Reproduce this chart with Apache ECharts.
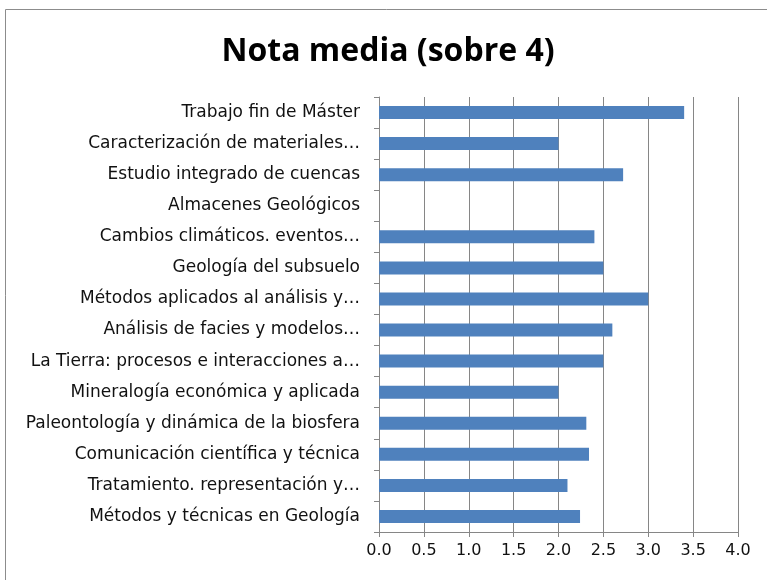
<!DOCTYPE html>
<html>
<head>
<meta charset="utf-8">
<script src="https://cdn.jsdelivr.net/npm/echarts@6/dist/echarts.min.js"></script>
<style>
  html, body { margin: 0; padding: 0; background: #fff; }
  #chart { width: 767px; height: 580px; }
</style>
</head>
<body>
<div id="chart"></div>
<script>
// asignaturas, de arriba a abajo
const asignaturas = [
    "Trabajo fin de Máster",
    "Caracterización de materiales…",
    "Estudio integrado de cuencas",
    "Almacenes Geológicos",
    "Cambios climáticos. eventos…",
    "Geología del subsuelo",
    "Métodos aplicados al análisis y…",
    "Análisis de facies y modelos…",
    "La Tierra: procesos e interacciones a…",
    "Mineralogía económica y aplicada",
    "Paleontología y dinámica de la biosfera",
    "Comunicación científica y técnica",
    "Tratamiento. representación y…",
    "Métodos y técnicas en Geología"
];
const notaMedia = [3.4, 2.0, 2.72, 0, 2.4, 2.5, 3.0, 2.6, 2.5, 2.0, 2.31, 2.34, 2.1, 2.24];
const ticks = [0, 0.5, 1, 1.5, 2, 2.5, 3, 3.5, 4];

const fuente = '"DejaVu Sans", sans-serif';
const chart = echarts.init(document.getElementById('chart'));
chart.setOption({
    animation: false,
    title: {
        text: 'Nota media (sobre 4)',
        left: 383, top: 31, textAlign: 'center',
        textStyle: { fontFamily: '"Open Sans", sans-serif', fontSize: 32, fontWeight: 'bold', color: '#000' }
    },
    graphic: [{
        type: 'rect',
        shape: { x: 5.5, y: 9.5, width: 800, height: 600 },
        style: { fill: 'none', stroke: '#8c8c8c', lineWidth: 1 }
    }],
    grid: { left: 379, right: 29, top: 97, bottom: 48 },
    xAxis: {
        type: 'value',
        min: 0, max: 4, interval: 0.5,
        axisLine: { show: true, lineStyle: { color: '#868686' } },
        axisTick: { show: true, length: 5, lineStyle: { color: '#868686' } },
        splitLine: { show: true, lineStyle: { color: '#868686', width: 1 } },
        axisLabel: {
            margin: 11,
            fontFamily: fuente, fontSize: 16, color: '#111',
            formatter: v => ticks.includes(v) ? v.toFixed(1) : ''
        }
    },
    yAxis: {
        type: 'category',
        inverse: true,
        data: asignaturas,
        axisLine: { show: true, lineStyle: { color: '#868686' } },
        axisTick: { show: true, length: 5, lineStyle: { color: '#868686' } },
        axisLabel: { margin: 19, fontFamily: fuente, fontSize: 17, color: '#111' }
    },
    series: [{
        type: 'bar',
        data: notaMedia,
        barWidth: 13,
        itemStyle: { color: '#4f81bd' }
    }]
});
</script>
</body>
</html>
